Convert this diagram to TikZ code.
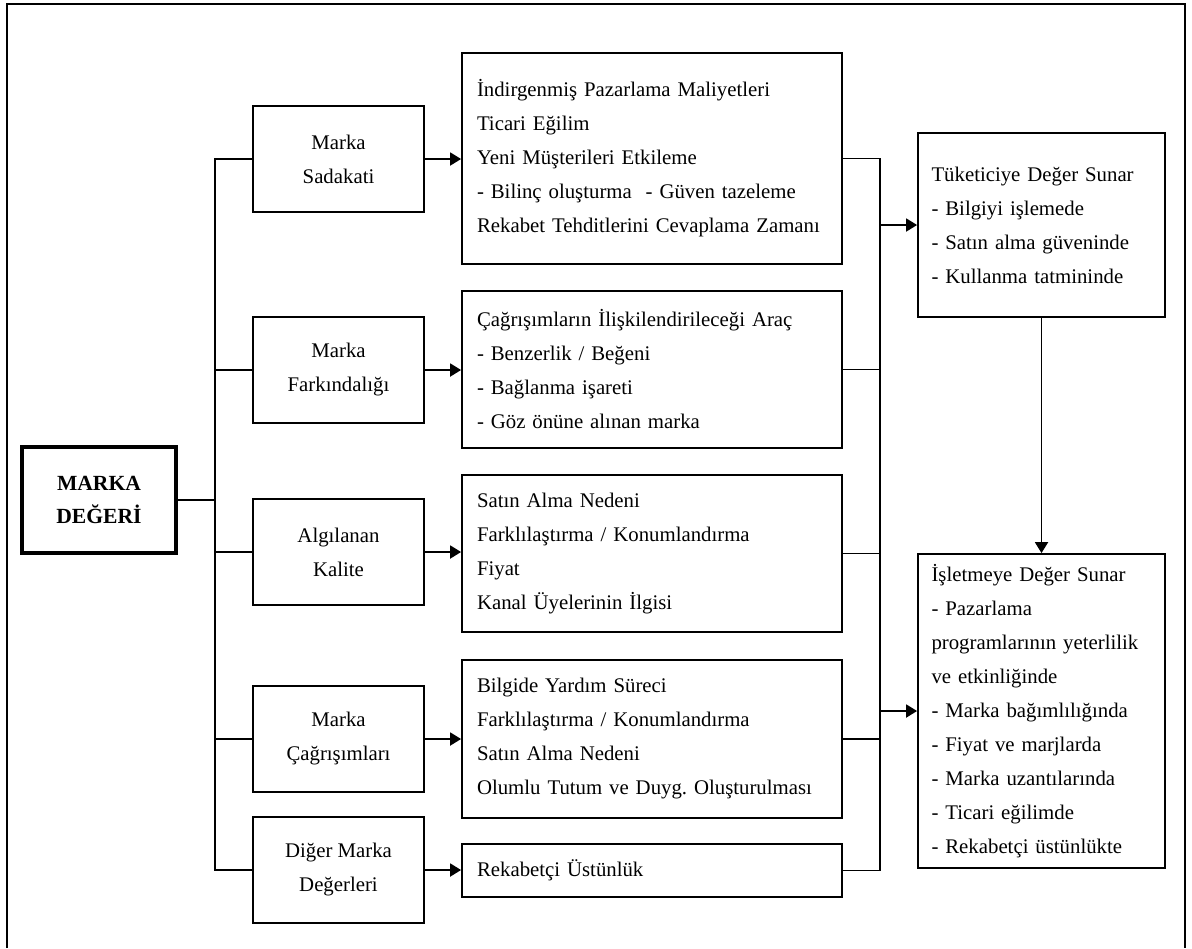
\documentclass[tikz,border=0pt]{standalone}
\usepackage{fontspec}
\setmainfont{Liberation Serif}
\usetikzlibrary{arrows.meta}

\begin{document}
\begin{tikzpicture}[x=0.5pt, y=-0.5pt, line width=0.9pt,
    >={Triangle[length=5.5pt,width=6.5pt]},
    font=\fontsize{10.4}{17}\selectfont,
    sol/.style={draw, minimum width=85.5pt, minimum height=53pt, align=center},
    orta/.style={draw, text width=175pt, inner xsep=7.5pt, align=left, minimum height=#1},
    sag/.style={draw, text width=110pt, inner xsep=6.75pt, align=left, minimum height=#1}]
  \useasboundingbox (0,0) rectangle (1192,948);
  \draw (7,948) -- (7,4) -- (1185,4) -- (1185,948);
  % left part
  \node (deger) at (99,500) [draw, line width=2pt, minimum width=77pt,
    minimum height=53pt, align=center,
    font=\fontsize{10.8}{16.5}\selectfont\bfseries] {MARKA\\DEĞERİ};
  \node (sadakat) at (338.5,159) [sol] {Marka\\Sadakati};
  \node (farkin) at (338.5,370) [sol] {Marka\\Farkındalığı};
  \node (kalite) at (338.5,552) [sol] {Algılanan\\Kalite};
  \node (cagris) at (338.5,739) [sol] {Marka\\Çağrışımları};
  \node (diger) at (338.5,870) [sol] {Diğer Marka\\Değerleri};
  % middle part
  \node (maliyet) at (652,158.5) [orta=105.5pt] {İndirgenmiş Pazarlama Maliyetleri\\
    Ticari Eğilim\\Yeni Müşterileri Etkileme\\- Bilinç oluşturma\ \ - Güven tazeleme\\
    Rekabet Tehditlerini Cevaplama Zamanı};
  \node (arac) at (652,369.5) [orta=78.5pt] {Çağrışımların İlişkilendirileceği Araç\\
    - Benzerlik / Beğeni\\- Bağlanma işareti\\- Göz önüne alınan marka};
  \node (neden) at (652,553.5) [orta=78.5pt] {Satın Alma Nedeni\\
    Farklılaştırma / Konumlandırma\\Fiyat\\Kanal Üyelerinin İlgisi};
  \node (surec) at (652,739) [orta=79pt] {Bilgide Yardım Süreci\\
    Farklılaştırma / Konumlandırma\\Satın Alma Nedeni\\
    Olumlu Tutum ve Duyg.\ Oluşturulması};
  \node (ustun) at (652,870.5) [orta=26.5pt] {Rekabetçi Üstünlük};
  % right part
  \node (tuket) at (1041.5,225) [sag=92pt] {Tüketiciye Değer Sunar\\
    - Bilgiyi işlemede\\- Satın alma güveninde\\- Kullanma tatmininde};
  \node (islet) at (1041.5,711) [sag=157pt] {İşletmeye Değer Sunar\\- Pazarlama\\
    programlarının yeterlilik\\ve etkinliğinde\\- Marka bağımlılığında\\
    - Fiyat ve marjlarda\\- Marka uzantılarında\\- Ticari eğilimde\\
    - Rekabetçi üstünlükte};
  \coordinate (solhat) at (215,0); \coordinate (saghat) at (880,0);
  % connectors
  \draw (deger.east) -- (deger.east -| solhat);
  \draw (sadakat.west) -- (sadakat.west -| solhat) -- (diger.west -| solhat)
    -- (diger.west);
  \draw (farkin.west) -- (farkin.west -| solhat);
  \draw (kalite.west) -- (kalite.west -| solhat);
  \draw (cagris.west) -- (cagris.west -| solhat);
  \draw[->] (sadakat.east) -- (sadakat.east -| maliyet.west);
  \draw[->] (farkin.east) -- (farkin.east -| arac.west);
  \draw[->] (kalite.east) -- (kalite.east -| neden.west);
  \draw[->] (cagris.east) -- (cagris.east -| surec.west);
  \draw[->] (diger.east) -- (diger.east -| ustun.west);
  \draw (maliyet.east) -- (maliyet.east -| saghat) -- (ustun.east -| saghat)
    -- (ustun.east);
  \draw (arac.east) -- (arac.east -| saghat);
  \draw (neden.east) -- (neden.east -| saghat);
  \draw (surec.east) -- (surec.east -| saghat);
  \draw[->] (tuket.west -| saghat) -- (tuket.west);
  \draw[->] (islet.west -| saghat) -- (islet.west);
  \draw[->] (tuket.south) -- (islet.north);
\end{tikzpicture}
\end{document}
